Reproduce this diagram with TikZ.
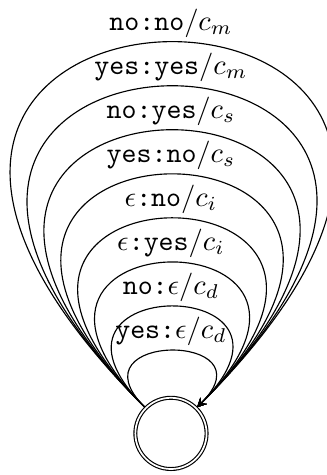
\documentclass[tikz,border=0pt]{standalone}
\usetikzlibrary{automata,arrows.meta}
\begin{document}
\begin{tikzpicture}[>=stealth, selfloop/.style={->, out=135, in=45},
                    looplabel/.style={above, inner sep=1.5pt}]
            \useasboundingbox (-60pt,-14.6pt) rectangle (54.7pt,152.1pt);
            \node[state, accepting] (q) at (0,0) {};

            \draw[selfloop] (q) to[distance=37.5pt] node[looplabel] {\texttt{yes:}$\epsilon/c_d$} (q);
            \draw[selfloop] (q) to[distance=66.7pt] node[looplabel] {\texttt{no:}$\epsilon/c_d$} (q);
            \draw[selfloop] (q) to[distance=95.8pt] node[looplabel] {$\epsilon$\texttt{:yes}$/c_i$} (q);
            \draw[selfloop] (q) to[distance=125pt] node[looplabel] {$\epsilon$\texttt{:no}$/c_i$} (q);
            \draw[selfloop] (q) to[distance=154.1pt] node[looplabel] {\texttt{yes:no}$/c_s$} (q);
            \draw[selfloop] (q) to[distance=183.3pt] node[looplabel] {\texttt{no:yes}$/c_s$} (q);
            \draw[selfloop] (q) to[distance=212.4pt] node[looplabel] {\texttt{yes:yes}$/c_m$} (q);
            \draw[selfloop] (q) to[distance=241.6pt] node[looplabel] {\texttt{no:no}$/c_m$} (q);
        \end{tikzpicture}
\end{document}
